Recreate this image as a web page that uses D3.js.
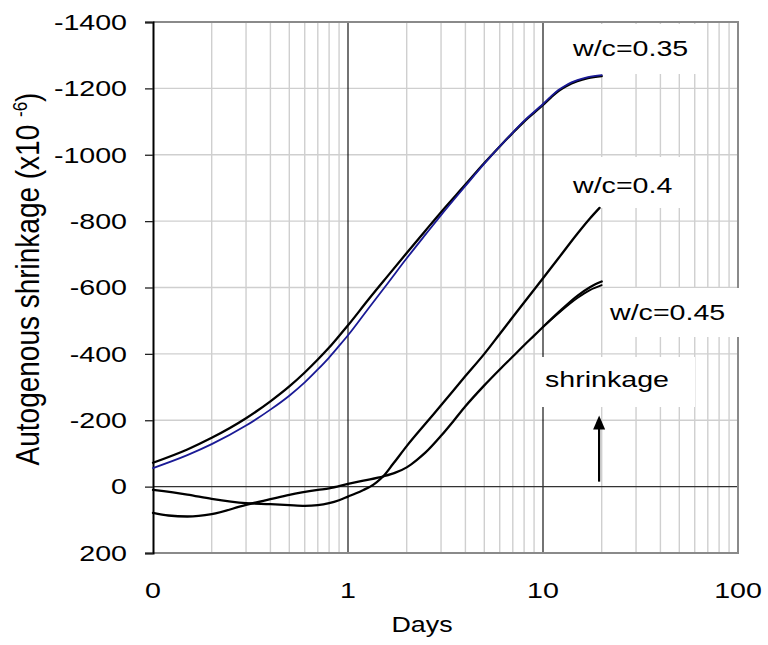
<!DOCTYPE html>
<html><head><meta charset="utf-8">
<script src="https://cdn.jsdelivr.net/npm/d3@7"></script>
<style>
body{margin:0;background:#fff}
text{font-family:"Liberation Sans",Arial,sans-serif;fill:#000}
</style>
</head><body><svg id="c" width="768" height="645"></svg>
<script>
// ---- data ----
const days035a = [0.1,0.15,0.2,0.3,0.4,0.5,0.6,0.7,0.8,0.9,1,1.27,1.6,2,2.5,3,4,5,6,7,8,10,11,12,13,14,15,17,20];
const shr035a  = [-72,-112,-147,-206,-257,-302,-344,-383,-419,-454,-486,-563,-635,-704,-772,-827,-910,-975,-1025,-1066,-1100,-1150,-1173,-1192,-1205,-1215,-1222,-1231,-1237];
const days035b = [0.1,0.15,0.2,0.3,0.4,0.5,0.6,0.7,0.8,0.9,1,1.27,1.6,2,2.5,3,4,5,6,7,8,10,11,12,13,14,15,17,20];
const shr035b  = [-56,-95,-128,-184,-232,-274,-314,-353,-389,-424,-456,-536,-613,-688,-760,-818,-906,-973,-1025,-1067,-1102,-1153,-1176,-1195,-1208,-1218,-1225,-1234,-1240];
const days040  = [0.1,0.15,0.2,0.3,0.4,0.5,0.6,0.7,0.8,0.9,1,1.1,1.2,1.3,1.4,1.52,1.7,2,2.5,3,4,5,6,7,8,10,12,15,17.4,19.5];
const shr040   = [10,24,37,50,53,56,58,56,50,41,30,20,10,0,-13,-32,-68,-122,-190,-245,-333,-400,-460,-511,-555,-628,-688,-762,-808,-840];
const days045a = [0.1,0.12,0.15,0.2,0.3,0.4,0.5,0.7,0.8,1,1.2,1.52,1.75,2,2.25,2.5,3,3.5,4,5,6,7,8,9,10,12,15,17.4,20];
const shr045a  = [79,87,90,83,55,38,25,10,5,-8,-18,-31,-42,-58,-80,-103,-153,-200,-242,-305,-353,-392,-426,-455,-481,-525,-575,-601,-618];
const days045b = [10,12,15,17.4,20];
const shr045b  = [-481,-522,-568,-592,-607];

const yTicks = [-1400,-1200,-1000,-800,-600,-400,-200,0,200];
const xTickValues = [0.1,1,10,100];
const xTickLabels = ["0","1","10","100"];
const seriesLabels = ["w/c=0.35","w/c=0.4","w/c=0.45"];
const noteLabel = "shrinkage";
const xTitle = "Days";
const yTitle = "Autogenous shrinkage (x10 ";
const yTitleExp = "-6";
const arrowDay = 19.4, arrowFrom = -15, arrowTo = -214;

// ---- layout ----
const L = 153, R = 738, T = 22, B = 553;
const SX = 1.3; // horizontal text stretch
const svg = d3.select("#c");
const x = d3.scaleLog().domain([0.1,100]).range([L,R]);
const y = d3.scaleLinear().domain([-1400,200]).range([T,B]);

// minor gridlines
const minor = [];
[0.1,1,10].forEach(d => { for (let k=2;k<=9;k++) minor.push(d*k); });
svg.append("g").selectAll("line").data(minor).join("line")
  .attr("x1",d=>x(d)).attr("x2",d=>x(d)).attr("y1",T).attr("y2",B)
  .attr("stroke","#cfcfcf").attr("stroke-width",1.4);
svg.append("g").selectAll("line").data(yTicks.filter(v=>v!==0 && v!==-1400 && v!==200)).join("line")
  .attr("x1",L).attr("x2",R).attr("y1",d=>y(d)).attr("y2",d=>y(d))
  .attr("stroke","#cfcfcf").attr("stroke-width",1.4);

// major vertical lines
svg.append("g").selectAll("line").data([1,10]).join("line")
  .attr("x1",d=>x(d)).attr("x2",d=>x(d)).attr("y1",T).attr("y2",B)
  .attr("stroke","#000").attr("stroke-width",1.1);
// zero line
svg.append("line").attr("x1",L).attr("x2",R).attr("y1",y(0)).attr("y2",y(0))
  .attr("stroke","#333").attr("stroke-width",1.3);

// frame
svg.append("path").attr("d",`M${L},${T}H${R}V${B}H${L}`).attr("fill","none")
  .attr("stroke","#8a8a8a").attr("stroke-width",2);

// label boxes (white)
const boxes = [[560,24,140,50],[560,157,130,51],[605,288,135,49],[536,357,159,50]];
svg.append("g").selectAll("rect").data(boxes).join("rect")
  .attr("x",d=>d[0]).attr("y",d=>d[1]).attr("width",d=>d[2]).attr("height",d=>d[3]).attr("fill","#fff");

// left axis
const yAxis = d3.axisLeft(y).tickValues(yTicks).tickSize(8).tickFormat("");
const ga = svg.append("g").attr("transform",`translate(${L},0)`).call(yAxis);
ga.select(".domain").attr("stroke","#000").attr("stroke-width",2);
ga.selectAll(".tick line").attr("stroke","#222").attr("stroke-width",1.3);

// y tick labels
svg.append("g").selectAll("text").data(yTicks).join("text")
  .attr("transform",d=>`translate(127,${y(d)+7.8}) scale(${SX},1)`)
  .attr("text-anchor","end").attr("font-size",22).text(d=>d);
// x tick labels
svg.append("g").selectAll("text").data(xTickValues).join("text")
  .attr("transform",d=>`translate(${x(d)},598) scale(${SX},1)`)
  .attr("text-anchor","middle").attr("font-size",22).text((d,i)=>xTickLabels[i]);
// x title
svg.append("text").attr("transform",`translate(422,632) scale(1.22,1)`)
  .attr("text-anchor","middle").attr("font-size",22).text(xTitle);
// y title
const yt = svg.append("text").attr("transform",`translate(39,279) scale(1.2,1) rotate(-90)`)
  .attr("text-anchor","middle").attr("font-size",28);
yt.append("tspan").text(yTitle);
yt.append("tspan").attr("font-size",17).attr("dy",-10).text(yTitleExp);
yt.append("tspan").attr("dy",10).text(")");

// curves
const line = d3.line().x(d=>x(d[0])).y(d=>y(d[1])).curve(d3.curveMonotoneX);
const series = [
  {d:days035a, v:shr035a, c:"#000", w:2.3},
  {d:days035b, v:shr035b, c:"#1a1a96", w:1.8},
  {d:days040,  v:shr040,  c:"#000", w:2.3},
  {d:days045b, v:shr045b, c:"#000", w:1.8},
  {d:days045a, v:shr045a, c:"#000", w:2.3}
];
svg.append("g").selectAll("path").data(series).join("path")
  .attr("d",s=>line(s.d.map((dd,i)=>[dd,s.v[i]])))
  .attr("fill","none").attr("stroke",s=>s.c).attr("stroke-width",s=>s.w)
  .attr("stroke-linejoin","round").attr("stroke-linecap","round");

// labels
const labelPos = [[573,56],[573,193],[610,320]];
svg.append("g").selectAll("text").data(seriesLabels).join("text")
  .attr("transform",(d,i)=>`translate(${labelPos[i][0]},${labelPos[i][1]}) scale(${SX},1)`)
  .attr("font-size",22).text(d=>d);
svg.append("text").attr("transform",`translate(545,387) scale(${SX},1)`)
  .attr("font-size",22).text(noteLabel);

// arrow
const ax = x(arrowDay);
svg.append("line").attr("x1",ax).attr("x2",ax).attr("y1",y(arrowFrom)).attr("y2",y(arrowTo)+10)
  .attr("stroke","#000").attr("stroke-width",2.2);
svg.append("path").attr("d",`M${ax},${y(arrowTo)}L${ax-6},${y(arrowTo)+14}L${ax+6},${y(arrowTo)+14}Z`).attr("fill","#000");
</script></body></html>
